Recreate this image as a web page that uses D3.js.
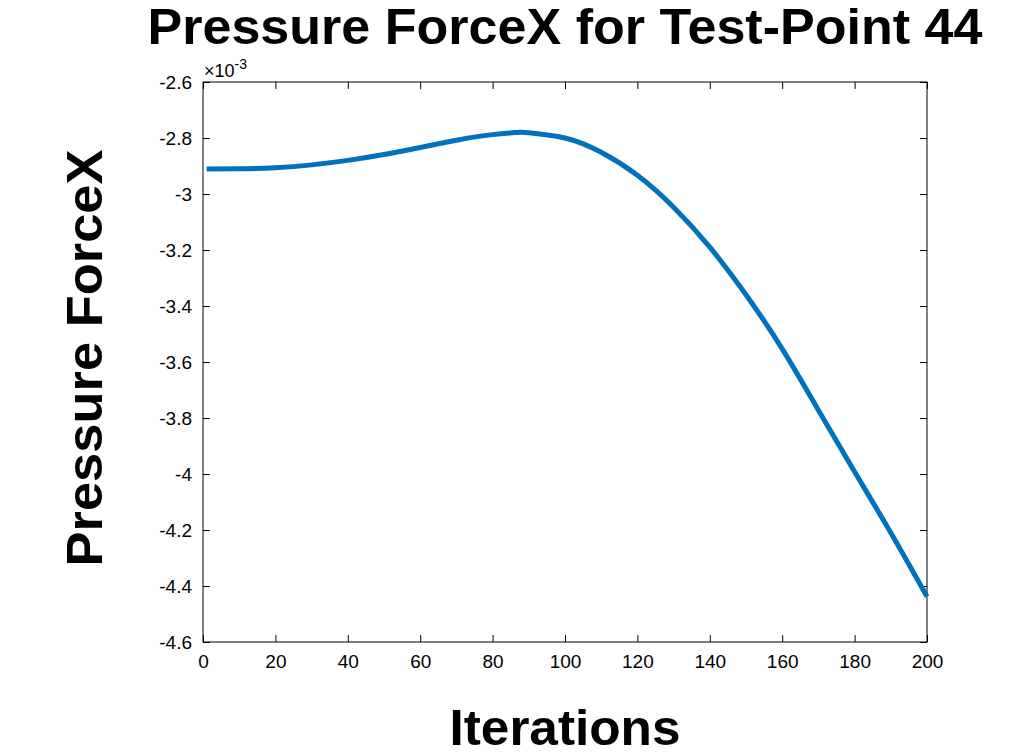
<!DOCTYPE html>
<html>
<head>
<meta charset="utf-8">
<script src="https://cdn.jsdelivr.net/npm/d3@7"></script>
<style>
  body { margin: 0; background: #fff; }
  svg { display: block; font-family: "Liberation Sans", Arial, sans-serif; }
</style>
</head>
<body>
<svg id="chart" width="1031" height="756"></svg>
<script>
// values, force in units of 1e-3
var iterations = [1, 10, 20, 30, 40, 50, 60, 70, 80, 87, 90, 100, 110, 120, 130, 140, 150, 160, 170, 180, 190, 200];
var forceX = [-2.911, -2.910, -2.906, -2.896, -2.880, -2.859, -2.834, -2.808, -2.788, -2.780, -2.781, -2.800, -2.851, -2.933, -3.047, -3.190, -3.360, -3.553, -3.772, -3.992, -4.210, -4.438];
var xTicks = [0, 20, 40, 60, 80, 100, 120, 140, 160, 180, 200];
var yTicks = [-4.6, -4.4, -4.2, -4, -3.8, -3.6, -3.4, -3.2, -3, -2.8, -2.6];

var margin = {left: 203, top: 82, right: 927, bottom: 642};
var svg = d3.select("#chart");

var x = d3.scaleLinear().domain([0, 200]).range([margin.left, margin.right]);
var y = d3.scaleLinear().domain([-4.6, -2.6]).range([margin.bottom, margin.top]);

// axes, MATLAB style: ticks inside, mirrored on the box
var fmt = function(d) { return String(+d.toFixed(1)); };
var styleAxis = function(g, labels) {
    g.select(".domain").remove();
    g.selectAll("line").attr("stroke", "#000").attr("stroke-width", 1);
    g.selectAll("text").attr("font-size", 19).attr("fill", "#000");
    if (!labels) g.selectAll("text").remove();
};

svg.append("g").attr("transform", "translate(0," + margin.bottom + ")")
    .call(d3.axisBottom(x).tickValues(xTicks).tickSizeInner(-7).tickPadding(13).tickFormat(fmt))
    .call(styleAxis, true);
svg.append("g").attr("transform", "translate(0," + margin.top + ")")
    .call(d3.axisTop(x).tickValues(xTicks).tickSizeInner(-7))
    .call(styleAxis, false);
svg.append("g").attr("transform", "translate(" + margin.left + ",0)")
    .call(d3.axisLeft(y).tickValues(yTicks).tickSizeInner(-7).tickPadding(11).tickFormat(fmt))
    .call(styleAxis, true);
svg.append("g").attr("transform", "translate(" + margin.right + ",0)")
    .call(d3.axisRight(y).tickValues(yTicks).tickSizeInner(-7))
    .call(styleAxis, false);

svg.append("rect")
    .attr("x", margin.left).attr("y", margin.top)
    .attr("width", margin.right - margin.left).attr("height", margin.bottom - margin.top)
    .attr("fill", "none").attr("stroke", "#000").attr("stroke-width", 1);

// the curve
var pts = iterations.map(function(d, i) { return [d, forceX[i]]; });
svg.append("path")
    .datum(pts)
    .attr("fill", "none")
    .attr("stroke", "#0072BD")
    .attr("stroke-width", 5)
    .attr("d", d3.line().x(function(d) { return x(d[0]); }).y(function(d) { return y(d[1]); }).curve(d3.curveNatural));

// exponent label
var ex = svg.append("text").attr("x", margin.left + 1).attr("y", 77).attr("font-size", 18).attr("fill", "#000");
ex.append("tspan").text("\u00d710");
ex.append("tspan").attr("dy", -8).attr("font-size", 14).text("-3");

// titles
var cx = (margin.left + margin.right) / 2;
svg.append("text")
    .attr("x", cx).attr("y", 44)
    .attr("text-anchor", "middle").attr("font-size", 50).attr("font-weight", "bold")
    .attr("textLength", 835).attr("lengthAdjust", "spacingAndGlyphs")
    .text("Pressure ForceX for Test-Point 44");
svg.append("text")
    .attr("x", cx).attr("y", 745)
    .attr("text-anchor", "middle").attr("font-size", 50).attr("font-weight", "bold")
    .attr("textLength", 231).attr("lengthAdjust", "spacingAndGlyphs")
    .text("Iterations");
svg.append("text")
    .attr("transform", "translate(102," + 358 + ") rotate(-90)")
    .attr("text-anchor", "middle").attr("font-size", 50).attr("font-weight", "bold")
    .attr("textLength", 417).attr("lengthAdjust", "spacingAndGlyphs")
    .text("Pressure ForceX");
</script>
</body>
</html>
